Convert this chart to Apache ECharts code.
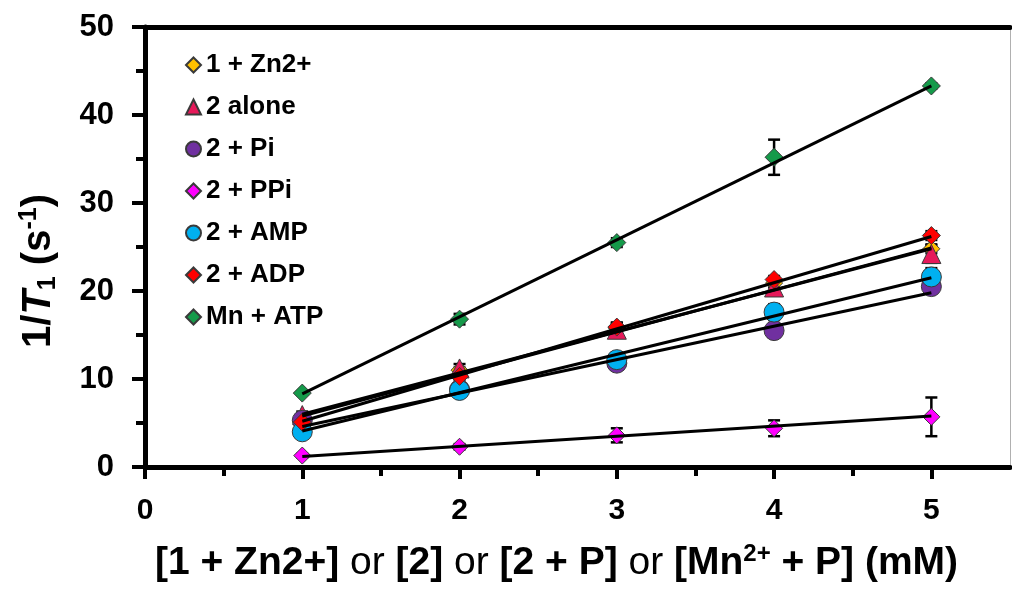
<!DOCTYPE html>
<html>
<head>
<meta charset="utf-8">
<script src="https://cdn.jsdelivr.net/npm/echarts@6/dist/echarts.min.js"></script>
<style>
  html, body { margin: 0; padding: 0; background: #fff; }
  #chart { width: 1012px; height: 594px; }
</style>
</head>
<body>
<div id="chart"></div>
<script>
// x 值 (mM)
var xVals = [1, 2, 3, 4, 5];
var fitX = [1, 5];

// 图例名称
var names = ['1 + Zn2+', '2 alone', '2 + Pi', '2 + PPi', '2 + AMP', '2 + ADP', 'Mn + ATP'];

// 1/T1 数据
var zn = [5.5, 11.0, 15.8, 20.9, 24.8];
var alone = [5.9, 11.2, 15.6, 20.4, 24.2];
var pi = [5.3, 8.8, 11.8, 15.5, 20.5];
var ppi = [1.3, 2.3, 3.6, 4.4, 5.7];
var amp = [4.0, 8.7, 12.2, 17.6, 21.6];
var adp = [5.1, 10.3, 15.9, 21.3, 26.3];
var mnAtp = [8.4, 16.8, 25.5, 35.2, 43.3];

// 误差
var znErr = [0.3, 0.3, 0.5, 0.5, 0.5];
var aloneErr = [0.4, 0.5, 0.8, 0.6, 1.0];
var piErr = [0.3, 0.3, 0.5, 0.5, 0.5];
var ppiErr = [0.2, 0.3, 0.8, 0.9, 2.2];
var ampErr = [0.3, 0.4, 0.8, 0.9, 1.0];
var adpErr = [0.3, 0.4, 0.5, 0.4, 0.5];
var mnAtpErr = [0.2, 0.6, 0.5, 2.0, 0.3];

// 拟合直线端点 (x = 1, x = 5)
var znFit = [5.8, 24.9];
var aloneFit = [6.0, 24.8];
var piFit = [4.6, 19.8];
var ppiFit = [1.2, 5.8];
var ampFit = [4.1, 21.5];
var adpFit = [5.2, 26.2];
var mnAtpFit = [8.3, 43.3];

var font = "'Liberation Sans', Arial, sans-serif";

var groups = [
    { y: zn, err: znErr, fit: znFit, color: '#FFC000', symbol: 'diamond', size: 17 },
    { y: alone, err: aloneErr, fit: aloneFit, color: '#E6195A', symbol: 'triangle', size: 19 },
    { y: pi, err: piErr, fit: piFit, color: '#7030A0', symbol: 'circle', size: 20 },
    { y: ppi, err: ppiErr, fit: ppiFit, color: '#FF00FF', symbol: 'diamond', size: 17 },
    { y: amp, err: ampErr, fit: ampFit, color: '#00B0F0', symbol: 'circle', size: 20 },
    { y: adp, err: adpErr, fit: adpFit, color: '#FF0000', symbol: 'diamond', size: 18 },
    { y: mnAtp, err: mnAtpErr, fit: mnAtpFit, color: '#159A4A', symbol: 'diamond', size: 18 }
];

var series = [];

// 误差棒 (在点下方)
groups.forEach(function(g, i) {
    series.push({
        type: 'custom',
        z: 1,
        silent: true,
        data: xVals.map(function(x, k) { return [x, g.y[k], g.err[k]]; }),
        renderItem: function(params, api) {
            var x = api.value(0), y = api.value(1), e = api.value(2);
            var top = api.coord([x, y + e]);
            var bot = api.coord([x, y - e]);
            var cap = 6;
            var st = { stroke: '#000', lineWidth: 2.5 };
            return {
                type: 'group',
                children: [
                    { type: 'line', shape: { x1: top[0], y1: top[1], x2: bot[0], y2: bot[1] }, style: st },
                    { type: 'line', shape: { x1: top[0] - cap, y1: top[1], x2: top[0] + cap, y2: top[1] }, style: st },
                    { type: 'line', shape: { x1: bot[0] - cap, y1: bot[1], x2: bot[0] + cap, y2: bot[1] }, style: st }
                ]
            };
        }
    });
});

// 散点
groups.forEach(function(g, i) {
    series.push({
        name: names[i],
        type: 'scatter',
        z: 2,
        symbol: g.symbol,
        symbolSize: g.size,
        itemStyle: { color: g.color, borderColor: '#3a3a3a', borderWidth: 1, opacity: 1 },
        data: xVals.map(function(x, k) { return [x, g.y[k]]; })
    });
});

// 拟合线 (在点上方)
groups.forEach(function(g) {
    series.push({
        type: 'line',
        z: 3,
        silent: true,
        symbol: 'none',
        lineStyle: { color: '#000', width: 3 },
        data: fitX.map(function(x, k) { return [x, g.fit[k]]; })
    });
});

var chart = echarts.init(document.getElementById('chart'));
chart.setOption({
    animation: false,
    backgroundColor: '#fff',
    grid: { left: 145, right: 2, top: 27, bottom: 127, containLabel: false },
    legend: {
        data: names,
        orient: 'vertical',
        left: 180,
        top: 47,
        itemWidth: 15,
        itemHeight: 15,
        itemGap: 16,
        textStyle: { color: '#000', fontSize: 26, fontWeight: 'bold', fontFamily: font }
    },
    xAxis: [{
        type: 'value',
        min: 0,
        max: 5.5,
        interval: 1,
        name: '{b|[1 + Zn2+]}{n| or }{b|[2]}{n| or }{b|[2 + P]}{n| or }{b|[Mn}{sup|2+}{b| + P] (mM)}',
        nameLocation: 'middle',
        nameGap: 75,
        nameTextStyle: {
            color: '#000',
            fontFamily: font,
            padding: [0, 42, 0, 0],
            rich: {
                b: { fontSize: 39, fontWeight: 'bold', color: '#000', fontFamily: font, lineHeight: 42 },
                n: { fontSize: 39, fontWeight: 'normal', color: '#000', fontFamily: font, lineHeight: 42 },
                sup: { fontSize: 24, fontWeight: 'bold', color: '#000', fontFamily: font, verticalAlign: 'top', lineHeight: 24 }
            }
        },
        axisLine: { onZero: false, lineStyle: { color: '#000', width: 5 } },
        axisTick: { inside: false, length: 12, customValues: [0, 1, 2, 3, 4, 5], lineStyle: { color: '#000', width: 4 } },
        axisLabel: {
            customValues: [0, 1, 2, 3, 4, 5],
            margin: 29,
            color: '#000',
            fontSize: 30,
            fontWeight: 'bold',
            fontFamily: font
        },
        splitLine: { show: false }
    }, {
        // 次刻度
        type: 'value',
        min: 0,
        max: 5.5,
        interval: 1,
        position: 'bottom',
        axisLine: { show: false, onZero: false },
        axisTick: { inside: false, length: 9, customValues: [0.5, 1.5, 2.5, 3.5, 4.5], lineStyle: { color: '#000', width: 4 } },
        axisLabel: { show: false },
        splitLine: { show: false }
    }, {
        // 上边框
        type: 'value',
        min: 0,
        max: 5.5,
        position: 'top',
        axisLine: { show: true, onZero: false, lineStyle: { color: '#000', width: 5 } },
        axisTick: { show: false },
        axisLabel: { show: false },
        splitLine: { show: false }
    }],
    yAxis: [{
        type: 'value',
        min: 0,
        max: 50,
        interval: 10,
        name: '1/{i|T}{sub|1} (s{sup|-1})',
        nameLocation: 'middle',
        nameRotate: 90,
        nameGap: 84,
        nameTextStyle: {
            color: '#000',
            fontSize: 40,
            fontWeight: 'bold',
            fontFamily: font,
            lineHeight: 44,
            padding: [0, 48, 0, 0],
            rich: {
                i: { fontSize: 40, fontWeight: 'bold', fontStyle: 'italic', color: '#000', fontFamily: font, lineHeight: 44 },
                sub: { fontSize: 25, fontWeight: 'bold', color: '#000', fontFamily: font, verticalAlign: 'bottom', lineHeight: 25 },
                sup: { fontSize: 25, fontWeight: 'bold', color: '#000', fontFamily: font, verticalAlign: 'top', lineHeight: 25 }
            }
        },
        axisLine: { onZero: false, lineStyle: { color: '#000', width: 5 } },
        axisTick: { inside: false, length: 13, lineStyle: { color: '#000', width: 4 } },
        minorTick: { show: true, splitNumber: 2, length: 9, lineStyle: { color: '#000', width: 4 } },
        axisLabel: { margin: 31, color: '#000', fontSize: 31, fontWeight: 'bold', fontFamily: font },
        splitLine: { show: false }
    }, {
        // 右边框
        type: 'value',
        min: 0,
        max: 50,
        position: 'right',
        axisLine: { show: true, onZero: false, lineStyle: { color: '#b0b0b0', width: 1 } },
        axisTick: { show: false },
        axisLabel: { show: false },
        splitLine: { show: false }
    }],
    series: series
});
</script>
</body>
</html>
